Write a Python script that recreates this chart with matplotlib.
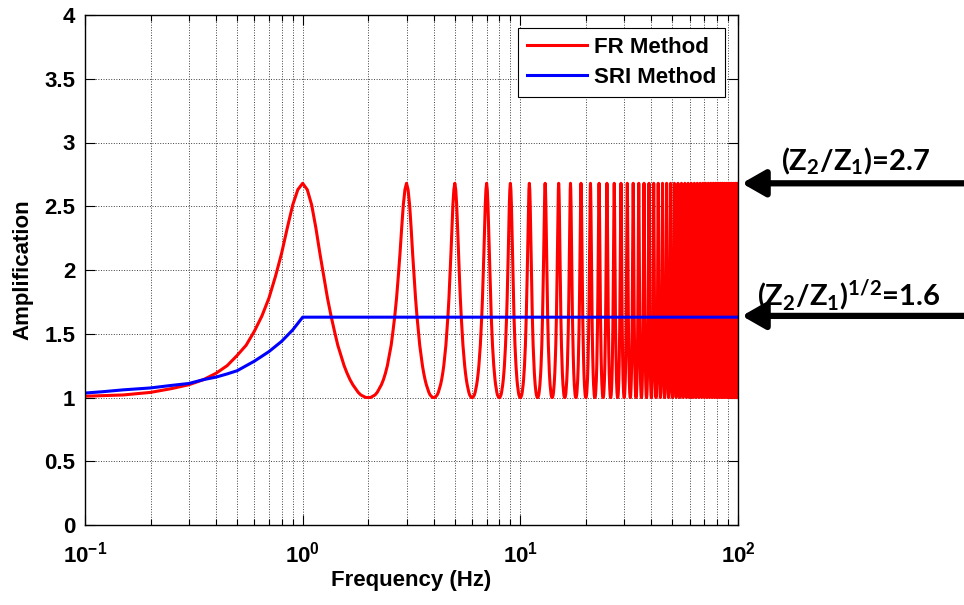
import numpy as np
import matplotlib
matplotlib.use('Agg')
import matplotlib.pyplot as plt
from matplotlib.ticker import FuncFormatter, LogLocator, NullFormatter

# FR Method: one half period of the resonance curve read from the first peak
# (frequency offset from the trough in Hz, amplification), mirrored and repeated
# at every peak seen on the chart (odd integer Hz).
half_f = [0.00, 0.05, 0.10, 0.15, 0.20, 0.25, 0.30, 0.35, 0.40, 0.45, 0.50,
          0.55, 0.60, 0.65, 0.70, 0.75, 0.80, 0.85, 0.90, 0.95, 1.00]
half_amp = [1.00, 1.00, 1.01, 1.02, 1.04, 1.07, 1.10, 1.14, 1.19, 1.25, 1.33,
            1.41, 1.52, 1.64, 1.78, 1.95, 2.13, 2.33, 2.51, 2.63, 2.68]
peak_freqs = list(range(1, 100, 2))

# SRI Method
sri_freq = [0.1, 0.12, 0.15, 0.2, 0.25, 0.3, 0.35, 0.4, 0.45, 0.5,
            0.6, 0.7, 0.8, 0.9, 1.0, 100]
sri_amp = [1.035, 1.045, 1.06, 1.075, 1.095, 1.11, 1.14, 1.16, 1.185, 1.21,
           1.285, 1.36, 1.44, 1.53, 1.63, 1.63]

y_ticks = [0, 0.5, 1, 1.5, 2, 2.5, 3, 3.5, 4]
arrow_levels = [2.68, 1.64]
arrow_labels = [r'$\mathsf{(Z_2/Z_1)}$=2.7', r'$\mathsf{(Z_2/Z_1)^{1/2}}$=1.6']
label_levels = [2.85, 1.80]
label_x = [1.18, 1.17]

plt.rcParams['font.family'] = ['Liberation Sans', 'DejaVu Sans']
plt.rcParams['font.weight'] = 'bold'
plt.rcParams['mathtext.fontset'] = 'custom'
plt.rcParams['mathtext.rm'] = 'Liberation Sans:bold'
plt.rcParams['mathtext.bf'] = 'Liberation Sans:bold'
plt.rcParams['mathtext.sf'] = 'Lato:bold'

# build the full FR curve from the period profile
period_f = np.array(half_f + [2 - x for x in reversed(half_f[:-1])])[:-1]
period_amp = np.array(half_amp + list(reversed(half_amp[:-1])))[:-1]
fr_freq = np.concatenate([p - 1 + period_f for p in peak_freqs] + [[100.0]])
fr_amp = np.concatenate([period_amp for p in peak_freqs] + [[1.0]])
keep = fr_freq >= 0.1
fr_freq, fr_amp = fr_freq[keep], fr_amp[keep]

fig = plt.figure(figsize=(9.64, 6.05), dpi=100)
ax = fig.add_axes([85/964, 80/605, 653/964, 510/605])

ax.plot(fr_freq, fr_amp, color='red', lw=2.2, label='FR Method')
ax.plot(sri_freq, sri_amp, color='blue', lw=2.2, label='SRI Method')

ax.set_xscale('log')
ax.set_xlim(0.1, 100)
ax.set_ylim(0, 4)
ax.set_yticks(y_ticks)
ax.yaxis.set_major_formatter(FuncFormatter(lambda v, p: f'{v:g}'))
ax.xaxis.set_major_locator(LogLocator(base=10))
ax.xaxis.set_minor_locator(LogLocator(base=10, subs=np.arange(2, 10)))
ax.xaxis.set_minor_formatter(NullFormatter())
ax.xaxis.set_major_formatter(FuncFormatter(
    lambda v, p: r'$\mathbf{10^{%d}}$' % round(np.log10(v))))

ax.tick_params(which='both', direction='in', top=True, right=True)
ax.tick_params(which='major', length=7, width=0.8, labelsize=16)
ax.tick_params(axis='x', which='major', pad=12)
ax.tick_params(axis='y', which='major', pad=7)
ax.tick_params(which='minor', length=4, width=0.8)
for s in ax.spines.values():
    s.set_linewidth(1.0)

ax.grid(True, which='major', ls=':', color='0.25', lw=0.7)
ax.grid(True, which='minor', axis='x', ls=':', color='0.25', lw=0.7)

ax.set_xlabel('Frequency (Hz)', fontsize=16, fontweight='bold', labelpad=2)
ax.set_ylabel('Amplification', fontsize=16, fontweight='bold', labelpad=8)

leg = ax.legend(loc='upper right', fontsize=16, fancybox=False, framealpha=1,
                edgecolor='black', handlelength=2.7, handletextpad=0.3,
                borderaxespad=0.6, labelspacing=0.4)
leg.get_frame().set_linewidth(0.8)

for lvl, lab, ly, lx in zip(arrow_levels, arrow_labels, label_levels, label_x):
    ax.annotate('', xy=(1.006, lvl), xycoords=('axes fraction', 'data'),
                xytext=(1.35, lvl), textcoords=('axes fraction', 'data'),
                arrowprops=dict(arrowstyle='-|>,head_length=0.7,head_width=0.4',
                                color='black', lw=4.5, mutation_scale=20,
                                shrinkA=0, shrinkB=0),
                annotation_clip=False)
    ax.text(lx, ly, lab, transform=ax.get_yaxis_transform(), fontsize=21,
            family=['Lato', 'DejaVu Sans'], ha='center', va='center',
            clip_on=False)

fig.savefig('out.png', dpi=100)
